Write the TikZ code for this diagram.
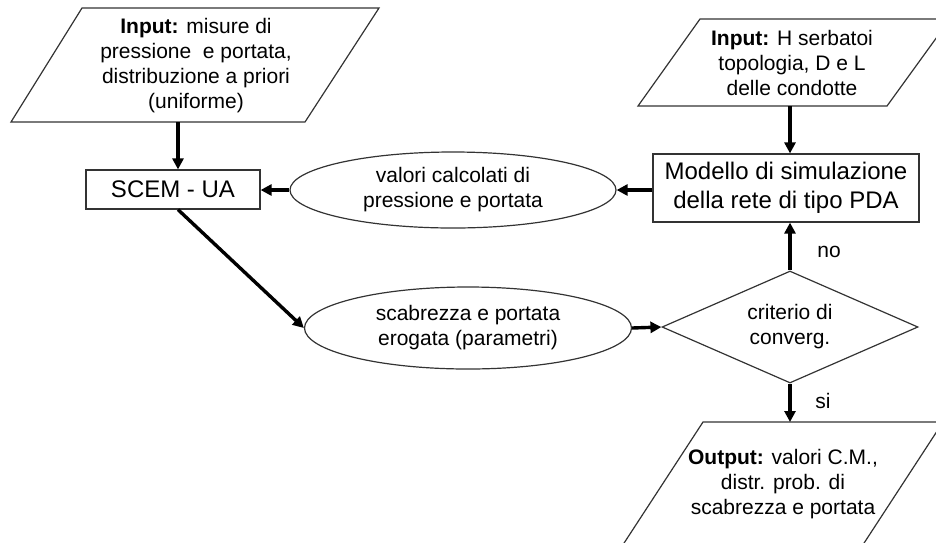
\documentclass[tikz,border=0pt]{standalone}
\usepackage{fontspec}
\setmainfont{Liberation Sans}
\usetikzlibrary{arrows.meta,shapes.geometric}
\begin{document}
\begin{tikzpicture}[x=1pt,y=-1pt,
  outline/.style={draw=black!80,line width=1.2pt},
  flow/.style={line width=3.4pt,-{Triangle[length=11pt,width=11pt]}},
  txt/.style={font=\fontsize{21}{25}\selectfont,align=center,inner sep=0pt},
  boxtxt/.style={font=\fontsize{24}{29}\selectfont,align=center,inner sep=0pt},
]
\useasboundingbox (0,0) rectangle (936,542);
\clip (0,0) rectangle (936,542);

% input data (parallelograms)
\draw[outline] (82,8) -- (379,8) -- (305,122) -- (11,122) -- cycle;
\node[txt] (in1) at (196,66) {\textbf{Input:} misure di\\pressione\ \ e portata,\\distribuzione a priori\\(uniforme)};
\coordinate (in1b) at (178,122);

\draw[outline] (700,19) -- (950,19) -- (887,106) -- (638,106) -- cycle;
\node[txt] (in2) at (792,63) {\textbf{Input:} H serbatoi\\topologia, D e L\\delle condotte};
\coordinate (in2b) at (790,106);

% process boxes
\node[outline,boxtxt,minimum width=174,minimum height=39] (scem) at (173,189.5) {SCEM - UA};
\node[outline,boxtxt,minimum width=266,minimum height=68] (model) at (786,188) {Modello di simulazione\\della rete di tipo PDA};

% exchanged quantities
\node[outline,ellipse,txt,minimum width=326,minimum height=76] (calc) at (453,190) {valori calcolati di\\pressione e portata};
\node[outline,ellipse,txt,minimum width=327,minimum height=82] (par) at (468,328) {scabrezza e portata\\erogata (parametri)};

% decision
\node[outline,diamond,aspect=2.3,txt,minimum width=256,minimum height=112] (conv) at (790,327) {criterio di\\converg.};

% output (parallelogram running off the page)
\draw[outline] (703,422) -- (943,422) -- (853,560) -- (613,560) -- cycle;
\node[txt] (out) at (783,484) {\textbf{Output:} valori C.M.,\\distr. prob. di\\scabrezza e portata};
\coordinate (outt) at (790,422);

% connectors
\draw[flow] (in1b) -- (scem.north -| in1b);
\draw[flow] (in2b) -- (model.north -| in2b);
\draw[flow] (model.west |- calc) -- (calc.east);
\draw[flow] (calc.west) -- (scem.east |- calc.west);
\draw[flow] (scem.south -| in1b) -- (par.west);
\draw[flow] (par.east) -- (conv.west);
\draw[flow] (conv.north) -- (model.south -| conv.north);
\draw[flow] (conv.south) -- (outt);

\node[txt] (no) at (829,252) {no};
\node[txt] (si) at (823,401) {si};
\end{tikzpicture}
\end{document}
